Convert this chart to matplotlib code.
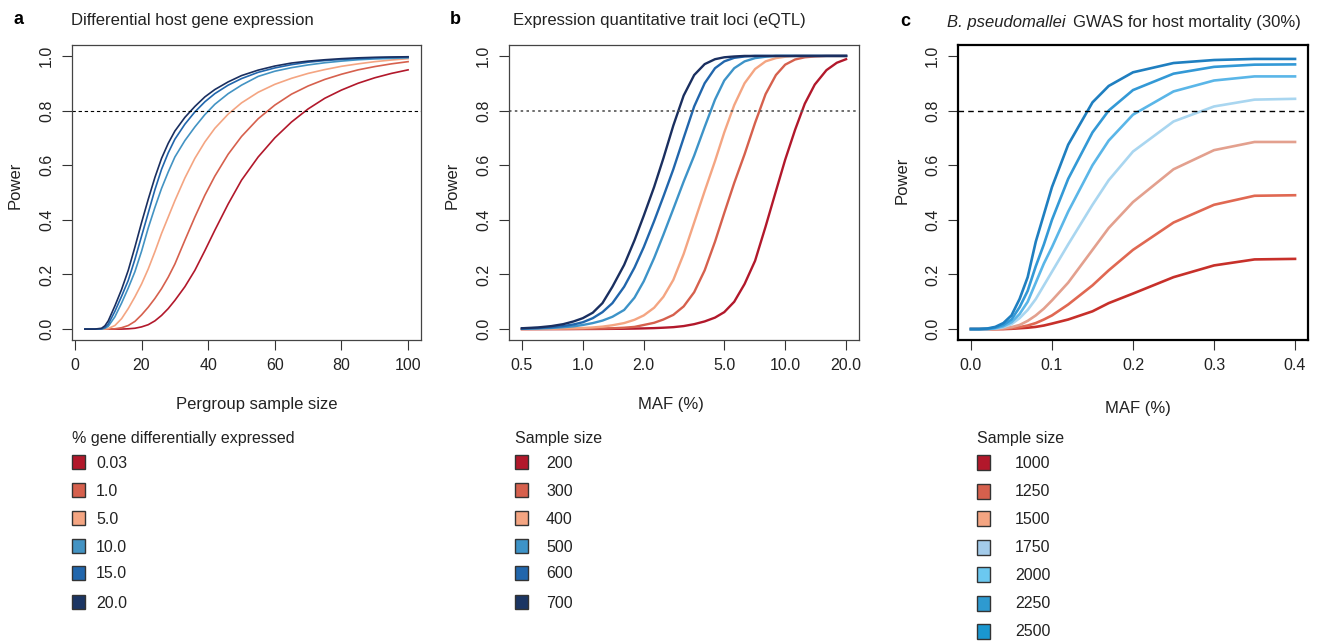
import matplotlib
matplotlib.use("Agg")
import matplotlib.pyplot as plt
from matplotlib.patches import Rectangle

plt.rcParams['font.family'] = ['Liberation Sans', 'DejaVu Sans']

W, H = 1319, 641

# ---- panel a: differential host gene expression (x = per-group sample size) ----
a_pct = ['0.03', '1.0', '5.0', '10.0', '15.0', '20.0']
a_x = [3, 6, 8, 9, 10, 12, 14, 16, 18, 20, 22, 24, 26, 28, 30, 33, 36, 39, 42, 46, 50, 55, 60, 65, 70, 75, 80, 85, 90, 95, 100]
a_power = [
    # 0.03 %
    [0, 0, 0, 0, 0, 0, 0, 0.001, 0.003, 0.008, 0.016, 0.03, 0.05, 0.075, 0.105, 0.155, 0.215, 0.287, 0.362, 0.458,
     0.545, 0.63, 0.70, 0.758, 0.806, 0.845, 0.875, 0.90, 0.92, 0.936, 0.949],
    # 1.0 %
    [0, 0, 0, 0, 0, 0.001, 0.005, 0.013, 0.028, 0.052, 0.08, 0.112, 0.148, 0.19, 0.238, 0.325, 0.41, 0.49, 0.56, 0.64,
     0.705, 0.77, 0.82, 0.86, 0.89, 0.914, 0.933, 0.949, 0.961, 0.971, 0.979],
    # 5.0 %
    [0, 0, 0, 0, 0.002, 0.013, 0.038, 0.075, 0.118, 0.165, 0.22, 0.283, 0.35, 0.41, 0.47, 0.553, 0.625, 0.685, 0.735,
     0.787, 0.828, 0.867, 0.896, 0.918, 0.936, 0.95, 0.962, 0.971, 0.979, 0.985, 0.99],
    # 10.0 %
    [0, 0, 0, 0.003, 0.01, 0.045, 0.095, 0.15, 0.21, 0.285, 0.37, 0.445, 0.515, 0.575, 0.63, 0.69, 0.74, 0.785, 0.823,
     0.862, 0.893, 0.925, 0.944, 0.957, 0.967, 0.975, 0.981, 0.986, 0.989, 0.991, 0.993],
    # 15.0 %
    [0, 0, 0.001, 0.006, 0.018, 0.065, 0.12, 0.178, 0.255, 0.34, 0.425, 0.51, 0.585, 0.645, 0.695, 0.75, 0.795, 0.832,
     0.862, 0.893, 0.917, 0.94, 0.956, 0.968, 0.977, 0.983, 0.987, 0.99, 0.993, 0.995, 0.996],
    # 20.0 %
    [0, 0, 0.003, 0.012, 0.03, 0.085, 0.145, 0.215, 0.30, 0.39, 0.475, 0.555, 0.625, 0.68, 0.725, 0.775, 0.815, 0.85,
     0.877, 0.905, 0.928, 0.948, 0.963, 0.974, 0.981, 0.986, 0.99, 0.993, 0.995, 0.996, 0.997],
]
a_colors = ['#B2182B', '#D6604D', '#F4A582', '#4393C3', '#2166AC', '#1A2F60']

# ---- panel b: eQTL (x = MAF %, log scale) ----
b_n = ['200', '300', '400', '500', '600', '700']
b_x = [0.5, 0.6, 0.7, 0.8, 0.9, 1.0, 1.12, 1.25, 1.4, 1.6, 1.8, 2.0, 2.25, 2.5, 2.8, 3.15, 3.55, 4.0, 4.5, 5.0,
       5.6, 6.3, 7.1, 8.0, 9.0, 10, 11.2, 12.5, 14, 16, 18, 20]
b_power = [
    # n = 200
    [0, 0, 0, 0, 0.0001, 0.0002, 0.0003, 0.0005, 0.0008, 0.0012, 0.0018, 0.0025, 0.0035, 0.005, 0.007, 0.011,
     0.018, 0.028, 0.042, 0.062, 0.10, 0.165, 0.25, 0.375, 0.505, 0.62, 0.73, 0.825, 0.895, 0.948, 0.975, 0.988],
    # n = 300
    [0.0001, 0.0002, 0.0003, 0.0005, 0.0007, 0.001, 0.0015, 0.002, 0.003, 0.005, 0.008, 0.015, 0.023, 0.035, 0.052,
     0.083, 0.135, 0.215, 0.32, 0.425, 0.535, 0.64, 0.755, 0.86, 0.93, 0.968, 0.987, 0.995, 0.998, 1.0, 1.0, 1.0],
    # n = 400
    [0.0003, 0.0006, 0.001, 0.002, 0.003, 0.004, 0.006, 0.009, 0.014, 0.022, 0.034, 0.05, 0.078, 0.118, 0.18,
     0.275, 0.39, 0.505, 0.615, 0.72, 0.82, 0.90, 0.952, 0.98, 0.992, 0.997, 1.0, 1.0, 1.0, 1.0, 1.0, 1.0],
    # n = 500
    [0.001, 0.002, 0.004, 0.007, 0.01, 0.015, 0.022, 0.031, 0.045, 0.07, 0.115, 0.175, 0.26, 0.345, 0.44, 0.54,
     0.635, 0.74, 0.84, 0.91, 0.955, 0.98, 0.992, 0.997, 1.0, 1.0, 1.0, 1.0, 1.0, 1.0, 1.0, 1.0],
    # n = 600
    [0.002, 0.004, 0.007, 0.011, 0.017, 0.025, 0.04, 0.062, 0.095, 0.155, 0.225, 0.30, 0.395, 0.485, 0.585, 0.70,
     0.815, 0.90, 0.955, 0.98, 0.993, 0.998, 1.0, 1.0, 1.0, 1.0, 1.0, 1.0, 1.0, 1.0, 1.0, 1.0],
    # n = 700
    [0.003, 0.006, 0.011, 0.018, 0.028, 0.04, 0.06, 0.095, 0.155, 0.235, 0.325, 0.415, 0.52, 0.625, 0.745, 0.855,
     0.93, 0.97, 0.988, 0.995, 0.998, 1.0, 1.0, 1.0, 1.0, 1.0, 1.0, 1.0, 1.0, 1.0, 1.0, 1.0],
]
b_colors = ['#B2182B', '#D6604D', '#F4A582', '#3D93C8', '#2166AC', '#1A2F60']

# ---- panel c: GWAS ----
c_x = [0, 0.01, 0.02, 0.03, 0.04, 0.05, 0.06, 0.07, 0.08, 0.09, 0.1, 0.12, 0.15, 0.17, 0.2, 0.25, 0.3, 0.35, 0.4]
c_n = ['1000', '1250', '1500', '1750', '2000', '2250', '2500']
c_power = [
    [0, 0, 0, 0, 0, 0.001, 0.003, 0.005, 0.008, 0.013, 0.02, 0.035, 0.065, 0.095, 0.13, 0.19, 0.233, 0.255, 0.257],
    [0, 0, 0, 0, 0.001, 0.003, 0.007, 0.013, 0.022, 0.035, 0.05, 0.09, 0.16, 0.215, 0.29, 0.39, 0.455, 0.488, 0.49],
    [0, 0, 0, 0, 0.003, 0.007, 0.015, 0.03, 0.05, 0.075, 0.105, 0.17, 0.29, 0.37, 0.465, 0.585, 0.655, 0.685, 0.685],
    [0, 0, 0, 0.002, 0.007, 0.018, 0.04, 0.07, 0.11, 0.16, 0.21, 0.31, 0.455, 0.545, 0.65, 0.76, 0.815, 0.84, 0.843],
    [0, 0, 0, 0.003, 0.01, 0.025, 0.055, 0.10, 0.17, 0.24, 0.30, 0.43, 0.60, 0.69, 0.785, 0.87, 0.91, 0.925, 0.925],
    [0, 0, 0.001, 0.005, 0.015, 0.035, 0.08, 0.14, 0.23, 0.31, 0.40, 0.55, 0.72, 0.80, 0.875, 0.935, 0.96, 0.968, 0.969],
    [0, 0, 0.002, 0.008, 0.022, 0.05, 0.11, 0.19, 0.32, 0.42, 0.52, 0.675, 0.83, 0.89, 0.94, 0.974, 0.985, 0.989, 0.989],
]
c_line_colors = ['#C7302A', '#E06852', '#E3A08E', '#A9D6F0', '#5AB6E8', '#3399D6', '#1F7FC0']
c_box_colors = ['#B2182B', '#D6604D', '#F4A582', '#A3CBEA', '#6BC8F0', '#2E9AD0', '#1A97D0']


def fx(px):
    return px / W


def fy(py):
    return 1 - py / H


def style_axes(ax, box_lw=0.9, box_color='#444444'):
    for s in ax.spines.values():
        s.set_linewidth(box_lw)
        s.set_color(box_color)
    ax.tick_params(direction='out', length=7, width=0.8, color='#333333',
                   labelsize=11.5, labelcolor='#222222', pad=6)
    ax.set_ylim(-0.04, 1.04)
    ax.set_yticks([0, 0.2, 0.4, 0.6, 0.8, 1.0])
    ax.set_yticklabels(['0.0', '0.2', '0.4', '0.6', '0.8', '1.0'], rotation=90, va='center')


fig = plt.figure(figsize=(W / 100, H / 100), dpi=100)

ax_bot, ax_h = fy(340), 295 / H
ax_a = fig.add_axes([fx(72), ax_bot, 349 / W, ax_h])
ax_b = fig.add_axes([fx(509), ax_bot, 350 / W, ax_h])
ax_c = fig.add_axes([fx(958), ax_bot, 350 / W, ax_h])

# panel a
for ys, col in zip(a_power, a_colors):
    ax_a.plot(a_x, ys, color=col, lw=1.2)
ax_a.axhline(0.8, color='black', lw=0.8, ls=(0, (3, 2.5)))
ax_a.set_xlim(-0.88, 103.88)
ax_a.set_xticks([0, 20, 40, 60, 80, 100])
style_axes(ax_a)

# panel b
for ys, col in zip(b_power, b_colors):
    ax_b.plot(b_x, ys, color=col, lw=1.7)
ax_b.axhline(0.8, color='#555555', lw=1.2, ls=(0, (1.5, 2)))
ax_b.set_xscale('log')
ax_b.set_xlim(0.4315, 23.17)
ax_b.set_xticks([0.5, 1, 2, 5, 10, 20])
ax_b.set_xticklabels(['0.5', '1.0', '2.0', '5.0', '10.0', '20.0'])
ax_b.minorticks_off()
style_axes(ax_b)

# panel c
for ys, col in zip(c_power, c_line_colors):
    ax_c.plot(c_x, ys, color=col, lw=1.9)
ax_c.axhline(0.8, color='black', lw=1.0, ls=(0, (4, 3)))
ax_c.set_xlim(-0.016, 0.416)
ax_c.set_xticks([0, 0.1, 0.2, 0.3, 0.4])
ax_c.set_xticklabels(['0.0', '0.1', '0.2', '0.3', '0.4'])
style_axes(ax_c, box_lw=1.6, box_color='black')

# titles and panel letters
fig.text(fx(13), fy(20), 'a', fontsize=13, fontweight='bold', va='center')
fig.text(fx(71), fy(20), 'Differential host gene expression', fontsize=12, va='center', color='#222222')
fig.text(fx(450), fy(20), 'b', fontsize=13, fontweight='bold', va='center')
fig.text(fx(513), fy(20), 'Expression quantitative trait loci (eQTL)', fontsize=12, va='center', color='#222222')
fig.text(fx(900), fy(22), 'c', fontsize=13, fontweight='bold', va='center')
fig.text(fx(947), fy(22), 'B. pseudomallei', fontsize=12, style='italic', va='center', color='#222222')
fig.text(fx(1073), fy(22), 'GWAS for host mortality (30%)', fontsize=12, va='center', color='#222222')

# axis labels
for x, y in [(15, 185), (452, 185), (902, 180)]:
    fig.text(fx(x), fy(y), 'Power', rotation=90, fontsize=12, ha='center', va='center', color='#222222')
fig.text(fx(257), fy(405), 'Pergroup sample size', fontsize=12, ha='center', va='center', color='#222222')
fig.text(fx(671), fy(405), 'MAF (%)', fontsize=12, ha='center', va='center', color='#222222')
fig.text(fx(1138), fy(408), 'MAF (%)', fontsize=12, ha='center', va='center', color='#222222')


def draw_legend(x0, title, labels, colors, ycenters, label_x, box_h=14):
    fig.text(fx(x0), fy(438), title, fontsize=11.5, va='center', color='#222222')
    for lab, col, yc in zip(labels, colors, ycenters):
        fig.add_artist(Rectangle((fx(x0), fy(yc + box_h / 2)), 13 / W, box_h / H,
                                 transform=fig.transFigure, facecolor=col,
                                 edgecolor='#333333', lw=1.0))
        fig.text(fx(label_x), fy(yc + 1), lab, fontsize=11.5, va='center', color='#222222')


ab_y = [462, 490, 518, 546, 573, 602]
draw_legend(72, '% gene differentially expressed', a_pct, a_colors[:5] + ['#1B3563'], ab_y, 96)
draw_legend(515, 'Sample size', b_n, b_colors[:5] + ['#1B3563'], ab_y, 546)
draw_legend(977, 'Sample size', c_n, c_box_colors, [462, 491, 518, 547, 574, 603, 631], 1015, box_h=15)

fig.savefig('out.png', dpi=100)
